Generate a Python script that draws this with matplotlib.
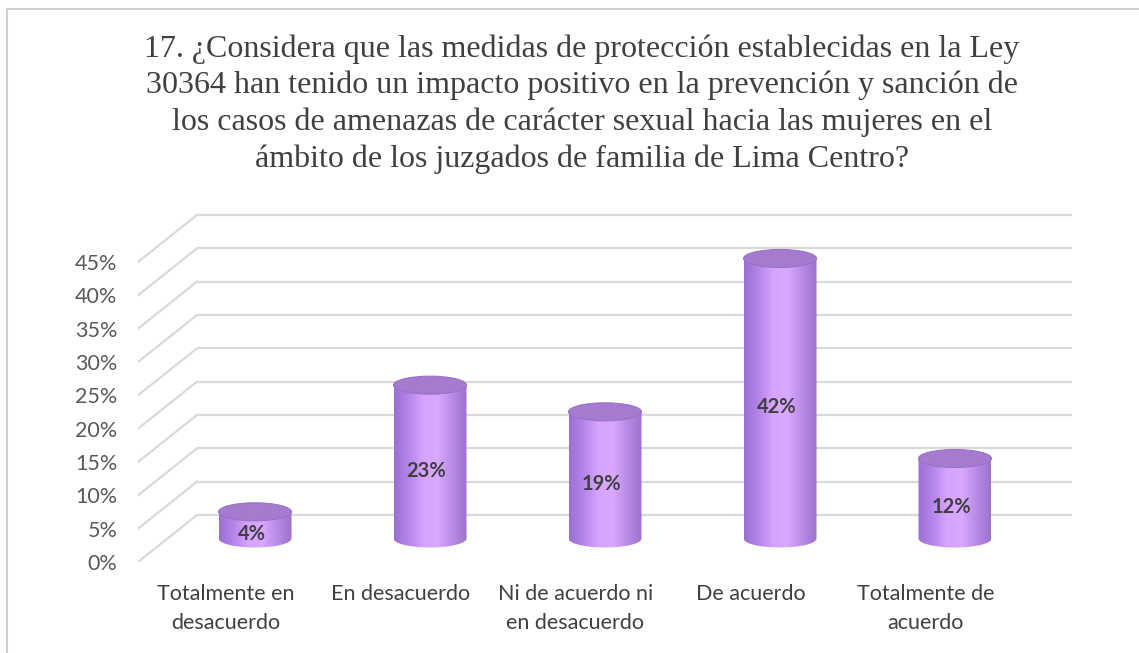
import numpy as np
import matplotlib
matplotlib.use("Agg")
import matplotlib.pyplot as plt
from matplotlib.patches import Polygon, Ellipse
from matplotlib.colors import LinearSegmentedColormap
from matplotlib.lines import Line2D

# datos
categorias = ["Totalmente en\ndesacuerdo", "En desacuerdo", "Ni de acuerdo ni\nen desacuerdo",
              "De acuerdo", "Totalmente de\nacuerdo"]
valores = [4, 23, 19, 42, 12]
etiquetas = ["4%", "23%", "19%", "42%", "12%"]
ticks_y = [0, 5, 10, 15, 20, 25, 30, 35, 40, 45]
titulo = ("17. ¿Considera que las medidas de protección establecidas en la Ley\n"
          "30364 han tenido un impacto positivo en la prevención y sanción de\n"
          "los casos de amenazas de carácter sexual hacia las mujeres en el\n"
          "ámbito de los juzgados de familia de Lima Centro?")

W, H = 1139, 653
fig = plt.figure(figsize=(W / 100, H / 100), dpi=100)

# ejes: plano frontal (x en categorias, y en %)
px_x = 175.0      # px por categoria
px_y = 6.667      # px por 1%
x0_px, y0_px = 138, 562
xmax = 4.837
ymax = 54
ax = fig.add_axes([x0_px / W, (H - y0_px) / H,
                   (xmax + 0.5) * px_x / W, ymax * px_y / H])
ax.set_xlim(-0.5, xmax)
ax.set_ylim(0, ymax)
for s in ax.spines.values():
    s.set_visible(False)

# profundidad (pared del fondo)
dx = 59 / px_x
dy = 47 / px_y
gris = "#d9d9d9"
for t in ticks_y:
    ax.plot([-0.5 + dx, xmax], [t + dy, t + dy], color=gris, lw=1.6, zorder=1, solid_capstyle="butt")
    ax.plot([-0.5, -0.5 + dx], [t, t + dy], color=gris, lw=1.6, zorder=1)

# cilindros
cmap = LinearSegmentedColormap.from_list("cil", ["#9a70d2", "#b585ea", "#d6a3fd", "#d9a8ff", "#b88be6", "#9c72cc"])
grad = np.linspace(0, 1, 256).reshape(1, -1)
hw = 36.5 / px_x       # media anchura
eh = 18 / px_y         # alto de la elipse
ang = np.linspace(np.pi, 2 * np.pi, 60)
for i, v in enumerate(valores):
    c = i + dx / 2
    base = dy / 2
    top = base + v
    arco = np.column_stack([c + hw * np.cos(ang), base + eh / 2 * np.sin(ang)])
    pts = np.vstack([[c - hw, top], arco, [c + hw, top]])
    cuerpo = Polygon(pts, closed=True, facecolor="none", edgecolor="none", zorder=3)
    ax.add_patch(cuerpo)
    im = ax.imshow(grad, cmap=cmap, aspect="auto", zorder=3,
                   extent=(c - hw, c + hw, base - eh, top), interpolation="bilinear")
    im.set_clip_path(cuerpo)
    ax.add_patch(Ellipse((c, top), 2 * hw, eh, facecolor="#a47bcf", edgecolor="#9a72c4", lw=0.8, zorder=4))
    ax.text(c - 0.02, base + v / 2 - 9 / px_y, etiquetas[i], ha="center", va="center",
            fontsize=14.5, fontweight="bold", color="#404040", family="Lato", zorder=5)

ax.set_xlim(-0.5, xmax)
ax.set_ylim(0, ymax)

ax.set_yticks(ticks_y, [f"{t}%" for t in ticks_y])
ax.set_xticks(range(len(categorias)), categorias)
ax.tick_params(axis="y", length=0, pad=15, labelsize=15.5, labelcolor="#595959")
ax.tick_params(axis="x", length=0, pad=16, labelsize=15.5, labelcolor="#404040")
for lab in ax.get_xticklabels() + ax.get_yticklabels():
    lab.set_family("Lato")
for lab in ax.get_xticklabels():
    lab.set_linespacing(1.55)

fig.text(582 / W, 1 - 34 / H, titulo, ha="center", va="top", fontsize=23,
         family="Liberation Serif", color="#404040", linespacing=1.32, multialignment="center")

# marco
fig.add_artist(Line2D([7 / W, 7 / W], [0, 1 - 9 / H], color="#d0d0d0", lw=1.5))
fig.add_artist(Line2D([7 / W, 1], [1 - 9 / H, 1 - 9 / H], color="#d0d0d0", lw=1.5))

fig.savefig("out.png", dpi=100)
